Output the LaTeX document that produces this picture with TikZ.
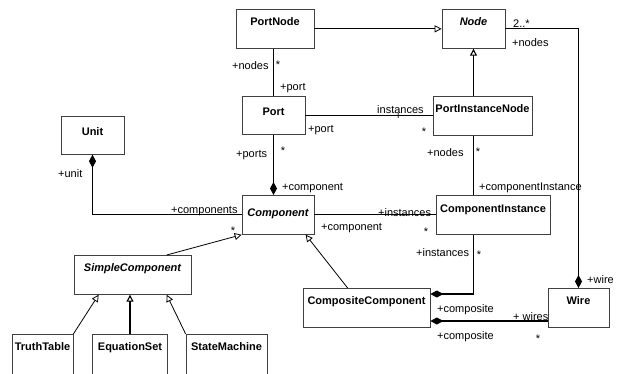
\documentclass[tikz,border=0pt]{standalone}
\usepackage{fontspec}
\setmainfont{Liberation Sans}
\usepackage{tikz}
\usetikzlibrary{arrows.meta,calc}

\begin{document}
\begin{tikzpicture}[x=1pt, y=-1pt,
  cls/.style={draw=black!75, line width=0.7pt, anchor=north, font=\fontsize{11}{13}\selectfont\bfseries, inner xsep=0pt, inner ysep=0pt, text height=16pt, text depth=23pt},
  abstr/.style={cls, font=\fontsize{11}{13}\selectfont\bfseries\itshape},
  role/.style={font=\fontsize{11}{13}\selectfont, inner sep=0pt, anchor=base west},
  mult/.style={role, anchor=base},
  assoc/.style={line width=1.1pt},
  plain/.style={line width=0.8pt},
  genl/.style={line width=0.8pt, -{Triangle[open, length=7pt, width=7pt]}},
  comp/.style={line width=1.1pt, {Diamond[length=13pt, width=7pt]}-}
]
\useasboundingbox (0,0) rectangle (618,373);
\clip (0,0) rectangle (618,373);

% Classes
\node[cls, minimum width=78pt] (PortNode) at (275,9) {PortNode};
\node[abstr, minimum width=63pt] (Node) at (473.5,9) {Node};
\node[cls, minimum width=63pt, text height=19pt, text depth=19pt] (Port) at (273.5,96) {Port};
\node[cls, minimum width=99pt] (PortInstanceNode) at (482.5,96) {PortInstanceNode};
\node[cls, minimum width=63pt, text height=19pt, text depth=19pt] (Unit) at (92.5,116) {Unit};
\node[abstr, minimum width=72pt, text height=21pt, text depth=18pt] (Component) at (278,195) {Component};
\node[cls, minimum width=114pt, text height=17pt, text depth=22pt] (ComponentInstance) at (493,195) {ComponentInstance};
\node[abstr, minimum width=117pt] (SimpleComponent) at (132.5,255) {SimpleComponent};
\node[cls, minimum width=127pt] (CompositeComponent) at (366.5,288) {CompositeComponent};
\node[cls, minimum width=61pt] (Wire) at (578.5,288) {Wire};
\node[cls, minimum width=61pt, text depth=50pt] (TruthTable) at (42.5,334) {TruthTable};
\node[cls, minimum width=75pt, text depth=50pt] (EquationSet) at (130,334) {EquationSet};
\node[cls, minimum width=81pt, text depth=50pt] (StateMachine) at (226.5,334) {StateMachine};

% Generalizations
\draw[genl] (PortNode.east) -- (Node.west);
\draw[genl, line width=1.1pt] (PortInstanceNode.north -| Node.south) -- (Node.south);
\draw[genl] ($(SimpleComponent.north west)+(93,0)$) -- (Component.south west);
\draw[genl] ($(CompositeComponent.north west)+(45,0)$) -- ($(Component.south west)+(64,0)$);
\draw[genl] (TruthTable.north east) -- ($(SimpleComponent.south west)+(25,0)$);
\draw[genl, line width=1.1pt] (EquationSet.north) -- (EquationSet.north |- SimpleComponent.south);
\draw[genl] (StateMachine.north west) -- ($(SimpleComponent.south west)+(93,0)$);

% Associations
\draw[plain] (PortNode.south -| Port.north) -- (Port.north);
\draw[assoc] (Port.east) -- (Port.east -| PortInstanceNode.west);
\draw[assoc] (PortInstanceNode.south -| Node.south) -- (ComponentInstance.north -| Node.south);
\draw[assoc] (Component.east) -- (Component.east -| ComponentInstance.west);

% Compositions
\coordinate (ccTop) at ($(CompositeComponent.north east)+(0,6)$);
\coordinate (ccLow) at ($(CompositeComponent.north east)+(0,33)$);
\draw[comp] (Component.north -| Port.south) -- (Port.south);
\draw[comp, line width=0.8pt] (Unit.south) |- (Component.west);
\draw[comp] (ccTop) -| (ComponentInstance.south -| Node.south);
\draw[comp] (ccLow) -- (ccLow -| Wire.west);
\draw[comp, line width=0.8pt] (Wire.north) |- (Node.east);

% Role names and multiplicities
\node[role] (r1) at (232,69) {+nodes};
\node[mult] (m1) at (278,68) {*};
\node[role] (r2) at (280,90) {+port};
\node[role] (r3) at (377,113) {instances};
\node[role] (r4) at (395,119.5) {+};
\node[mult] (m2) at (424,135) {*};
\node[role] (r5) at (308,132) {+port};
\node[role] (r6) at (236,157) {+ports};
\node[mult] (m3) at (283,154) {*};
\node[role] (r7) at (282,190) {+component};
\node[role] (r8) at (58,177) {+unit};
\node[role] (r9) at (171,213) {+components};
\node[mult] (m4) at (233,234) {*};
\node[role] (r10) at (378,216) {+instances};
\node[mult] (m5) at (426,235) {*};
\node[role] (r11) at (321,230) {+component};
\node[role] (r12) at (427,156) {+nodes};
\node[mult] (m6) at (478,155) {*};
\node[role] (r13) at (479,190) {+componentInstance};
\node[role] (r14) at (513,27) {2..*};
\node[role] (r15) at (512,46) {+nodes};
\node[role] (r16) at (587,283) {+wire};
\node[role] (r17) at (416,256) {+instances};
\node[mult] (m7) at (479,258) {*};
\node[role] (r18) at (437,312) {+composite};
\node[role] (r19) at (513,320) {+ wires};
\node[role] (r20) at (437,339) {+composite};
\node[mult] (m8) at (538,342) {*};

\end{tikzpicture}
\end{document}
